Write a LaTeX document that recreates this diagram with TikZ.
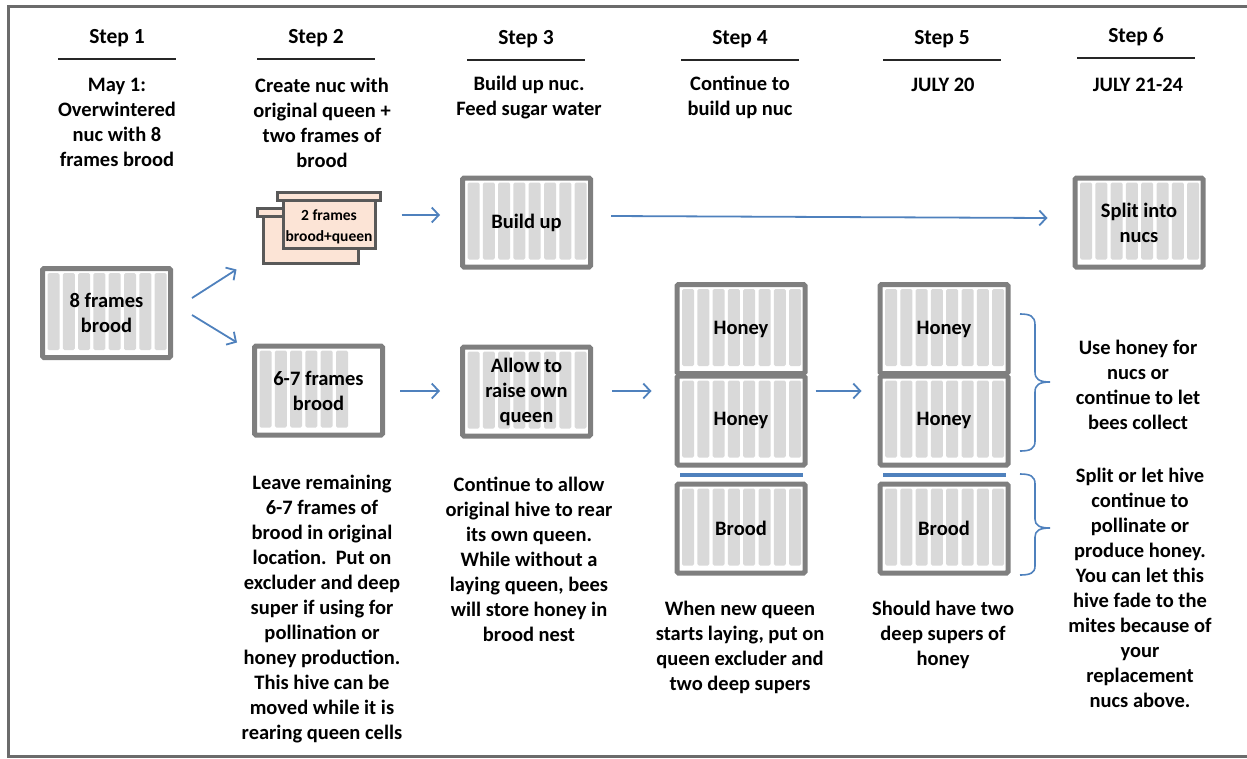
\documentclass[tikz,border=0pt]{standalone}
\usepackage{fontspec}
\setmainfont{Carlito}
\usetikzlibrary{arrows.meta,calc}
\definecolor{boxgray}{HTML}{7F7F7F}
\definecolor{bargray}{HTML}{D9D9D9}
\definecolor{nucfill}{HTML}{FCE4D6}
\definecolor{nucline}{HTML}{595959}
\definecolor{flow}{HTML}{4F81BD}
\definecolor{framegray}{HTML}{6B6B6B}

\tikzset{
  txt/.style={font=\bfseries\fontsize{20.5}{25}\selectfont, align=center, inner sep=0pt},
  head/.style={txt, font=\bfseries\fontsize{21.5}{25}\selectfont},
  hive/.style={draw=boxgray, line width=5pt, minimum width=128pt, minimum height=89pt,
    inner sep=0pt, rounded corners=1.5pt, txt,
    path picture={
      \foreach \i in {1,...,#1}{
        \fill[bargray] ($(path picture bounding box.north west)+({(5+(\i-1)*15.3)*1pt},-4.5pt)$)
          rectangle ++(12pt,-77pt);
      }}},
  nucbox/.style={draw=nucline, fill=nucfill, line width=3pt, inner sep=0pt},
  arr/.style={draw=flow, line width=1.8pt, -{Straight Barb[length=7pt,width=15pt]}},
  excluder/.style={draw=flow, line width=3.5pt},
  bracepath/.style={draw=flow, line width=1.6pt},
  uline/.style={draw=black!85, line width=1.6pt},
}

\begin{document}
\begin{tikzpicture}[x=1pt, y=-1pt]
\useasboundingbox (0,0) rectangle (1247,758);

% outer frame (open on the right)
\draw[framegray, line width=3pt] (1247,6.5) -- (8.5,6.5) -- (8.5,756) -- (1247,756);

% step headings with underlines
\foreach \n/\x/\y in {1/117/38, 2/316/38, 3/526/39, 4/740/39, 5/942/39, 6/1136/37}{
  \node[head] (h\n) at (\x,\y) {Step \n};
  \draw[uline] ([shift={(-59,21)}]h\n.center) -- ([shift={(59,21)}]h\n.center);
}

% descriptions under the headings
\node[txt] (t1) at (117,122.5) {May 1:\\Overwintered\\nuc with 8\\frames brood};
\node[txt] (t2) at (322,122.5) {Create nuc with\\original queen +\\two frames of\\brood};
\node[txt] (t3) at (529,97.5) {Build up nuc.\\Feed sugar water};
\node[txt] (t4) at (740,97.5) {Continue to\\build up nuc};
\node[txt] (t5) at (943,85) {JULY 20};
\node[txt] (t6) at (1138,85) {JULY 21-24};

% hive boxes
\node[hive=8] (box1) at (106.5,313) {8 frames\\brood};
\node[hive=8] (build) at (526.5,222.5) {Build up};
\node[hive=8] (split) at (1139,222.5) {Split into\\nucs};
\node[hive=6] (box67) at (318.5,390.5) {6-7 frames\\brood};
\node[hive=8] (allow) at (526.5,391.5) {Allow to\\raise own\\queen};

% step 4 stack
\node[hive=8] (s4a) at (741,329) {Honey};
\node[hive=8] (s4b) at (741,420.5) {Honey};
\node[hive=8] (s4c) at (741,528.5) {Brood};
\draw[excluder] ([shift={(-61,-53.5)}]s4c.center) -- ([shift={(62,-53.5)}]s4c.center);

% step 5 stack
\node[hive=8] (s5a) at (944,329) {Honey};
\node[hive=8] (s5b) at (944,420.5) {Honey};
\node[hive=8] (s5c) at (944,528.5) {Brood};
\draw[excluder] ([shift={(-61,-53.5)}]s5c.center) -- ([shift={(62,-53.5)}]s5c.center);

% new nuc: two small boxes with lids
\node[nucbox, minimum width=95pt, minimum height=48pt] (nucback) at (310.5,239) {};
\draw[nucbox] (257,208) rectangle (364,216);
\node[nucbox, minimum width=92pt, minimum height=48pt] (nuc) at (329,224) {};
\draw[nucbox] (277,192) rectangle (380,200);
\node[font=\bfseries\fontsize{15.5}{21}\selectfont, align=center, inner sep=0pt] (nuclabel) at (329,226.5) {2 frames\\brood+queen};

% arrows
\draw[arr] ([shift={(19,-15)}]box1.east) -- ([shift={(-25,5)}]nucback.south west);
\draw[arr] ([shift={(19,2)}]box1.east) -- ([shift={(-15,-1)}]box67.north west);
\draw[arr] ([shift={(25,-9)}]nuc.east) -- ([shift={(-20,-7.5)}]build.west);
\draw[arr] ([shift={(18,-6.5)}]build.east) -- ([shift={(-25,-4.5)}]split.west);
\draw[arr] ([shift={(15,0.5)}]box67.east) -- ([shift={(-20,-0.5)}]allow.west);
\draw[arr] ([shift={(19,-0.5)}]allow.east) -- ([shift={(-23,-29.5)}]s4b.west);
\draw[arr] ([shift={(8,-29.5)}]s4b.east) -- ([shift={(-16,-29.5)}]s5b.west);

% braces to the right of step 5
\draw[bracepath] (1020,314) .. controls (1030,314) and (1035,316) .. (1035,325) -- (1035,372)
  .. controls (1035,379) and (1039,382) .. (1050,382)
  .. controls (1039,382) and (1035,385) .. (1035,392) -- (1035,441)
  .. controls (1035,449) and (1030,451) .. (1020,451);
\draw[bracepath] (1020,474) .. controls (1030,474) and (1035,476) .. (1035,484) -- (1035,519)
  .. controls (1035,525) and (1039,528) .. (1050,528)
  .. controls (1039,528) and (1035,531) .. (1035,537) -- (1035,566)
  .. controls (1035,573) and (1030,575) .. (1020,575);

% notes below and beside the boxes
\node[txt] (b2) at (322,609.5) {Leave remaining\\6-7 frames of\\brood in original\\location.\ \ Put on\\excluder and deep\\super if using for\\pollination or\\honey production.\\This hive can be\\moved while it is\\rearing queen cells};
\node[txt] (b3) at (529,559.5) {Continue to allow\\original hive to rear\\its own queen.\\While without a\\laying queen, bees\\will store honey in\\brood nest};
\node[txt] (b4) at (740,647) {When new queen\\starts laying, put on\\queen excluder and\\two deep supers};
\node[txt] (b5) at (943,634.5) {Should have two\\deep supers of\\honey};
\node[txt] (r6a) at (1138,384.5) {Use honey for\\nucs or\\continue to let\\bees collect};
\node[txt] (r6b) at (1140,587.5) {Split or let hive\\continue to\\pollinate or\\produce honey.\\You can let this\\hive fade to the\\mites because of\\your\\replacement\\nucs above.};
\end{tikzpicture}
\end{document}
